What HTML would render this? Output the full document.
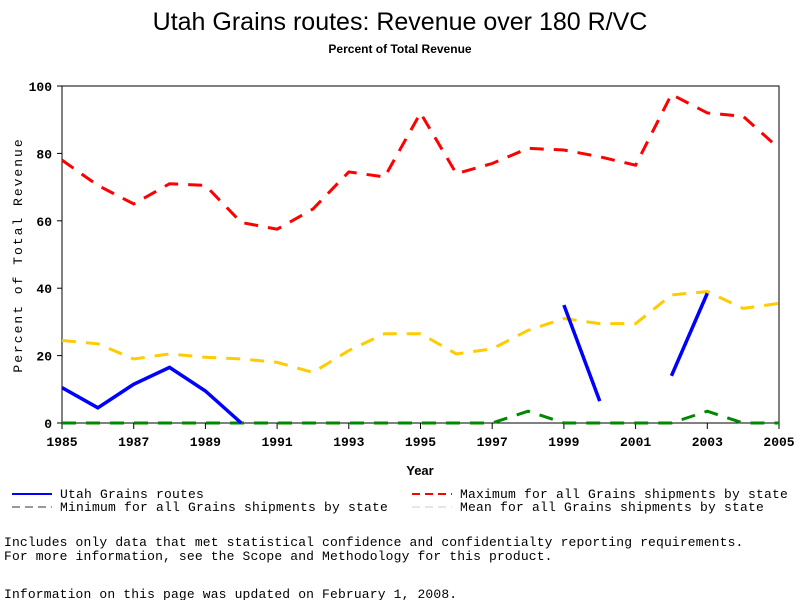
<!DOCTYPE html>
<html><head><meta charset="utf-8"><style>
body{margin:0;background:#fff;}
svg text{font-family:"Liberation Mono",monospace;}
</style></head><body>
<svg id="chart" width="800" height="600" xmlns="http://www.w3.org/2000/svg">
<text x="400" y="30" text-anchor="middle" font-size="25" style="font-family:'Liberation Sans',sans-serif">Utah Grains routes: Revenue over 180 R/VC</text>
<text x="400" y="53" text-anchor="middle" font-size="12" font-weight="bold" style="font-family:'Liberation Sans',sans-serif">Percent of Total Revenue</text>
<rect x="62" y="86" width="717" height="337" fill="none" stroke="#000"/>
<g id="yaxis"></g><g id="xaxis"></g><g id="series"></g>
<text x="420" y="475" text-anchor="middle" font-size="13" font-weight="bold" style="font-family:'Liberation Sans',sans-serif">Year</text>
<text transform="translate(22,255) rotate(-90)" text-anchor="middle" font-size="13" letter-spacing="2">Percent of Total Revenue</text>
<g font-size="13" letter-spacing="0.2">
<line x1="12" y1="494" x2="52" y2="494" stroke="#00f" stroke-width="2"/><text x="60" y="498">Utah Grains routes</text>
<line x1="412" y1="494" x2="452" y2="494" stroke="#f00" stroke-width="2" stroke-dasharray="8,5"/><text x="460" y="498">Maximum for all Grains shipments by state</text>
<line x1="12" y1="507" x2="52" y2="507" stroke="#333" stroke-width="1" stroke-dasharray="8,5"/><text x="60" y="511">Minimum for all Grains shipments by state</text>
<line x1="412" y1="507" x2="452" y2="507" stroke="#ccc" stroke-width="1" stroke-dasharray="8,5"/><text x="460" y="511">Mean for all Grains shipments by state</text>
</g>
<g font-size="13" letter-spacing="0.15">
<text x="4" y="546">Includes only data that met statistical confidence and confidentialty reporting requirements.</text>
<text x="4" y="560">For more information, see the Scope and Methodology for this product.</text>
<text x="4" y="598">Information on this page was updated on February 1, 2008.</text>
</g>
</svg>
<script>
const years=[1985,1986,1987,1988,1989,1990,1991,1992,1993,1994,1995,1996,1997,1998,1999,2000,2001,2002,2003,2004,2005];
const maxVals=[78,70.5,65,71,70.5,59.5,57.5,63.5,74.5,73,92,74,77,81.5,81,79,76.5,97.5,92,91,81.5];
const meanVals=[24.5,23.5,19,20.5,19.5,19,18,15,21.5,26.5,26.5,20.5,22,27.5,31,29.5,29.5,38,39,34,35.5];
const minVals=[0,0,0,0,0,0,0,0,0,0,0,0,0,3.5,0,0,0,0,3.5,0,0];
const utahVals=[10.5,4.5,11.5,16.5,9.5,0,null,null,null,null,null,null,null,null,35,6.5,null,14,38.5,null,null];
const yTicks=[0,20,40,60,80,100];
const xTicks=[1985,1987,1989,1991,1993,1995,1997,1999,2001,2003,2005];
const NS="http://www.w3.org/2000/svg";
const X=y=>62+(y-1985)*(717/20);
const Y=v=>423-v*3.37;
function mk(t,a,p){const e=document.createElementNS(NS,t);for(const k in a)e.setAttribute(k,a[k]);p.appendChild(e);return e;}
const ya=document.getElementById('yaxis'),xa=document.getElementById('xaxis'),sg=document.getElementById('series');
yTicks.forEach(v=>{
 const l=mk('line',{x1:57,x2:62,y1:Y(v),y2:Y(v),stroke:'#000'},ya);
 
 
 const t=mk('text',{x:52,y:Y(v)+5,'text-anchor':'end','font-size':13,'font-weight':'bold'},ya);
 t.textContent=v;
 
 
});
xTicks.forEach(v=>{
 const l=mk('line',{x1:X(v),x2:X(v),y1:423,y2:429,stroke:'#000'},xa);
 
 
 const t=mk('text',{x:X(v),y:446,'text-anchor':'middle','font-size':13,'font-weight':'bold'},xa);
 t.textContent=v;
 
 
});
function draw(vals,color,w,dash,name){
 let seg=[];const segs=[];
 vals.forEach((v,i)=>{if(v===null){if(seg.length)segs.push(seg);seg=[];}else seg.push(X(years[i])+','+Y(v));});
 if(seg.length)segs.push(seg);
 segs.forEach(s=>{if(s.length<2)return;
  const p=mk('polyline',{points:s.join(' '),fill:'none',stroke:color,'stroke-width':w,'stroke-dasharray':dash},sg);
  
  
 });
}
draw(minVals,'#080',3,'14,10','min-line');
draw(meanVals,'#fc0',3,'14,10','mean-line');
draw(maxVals,'#f00',3,'14,10','max-line');
draw(utahVals,'#00f',3.5,'none','utah-line');
</script>
</body></html>
